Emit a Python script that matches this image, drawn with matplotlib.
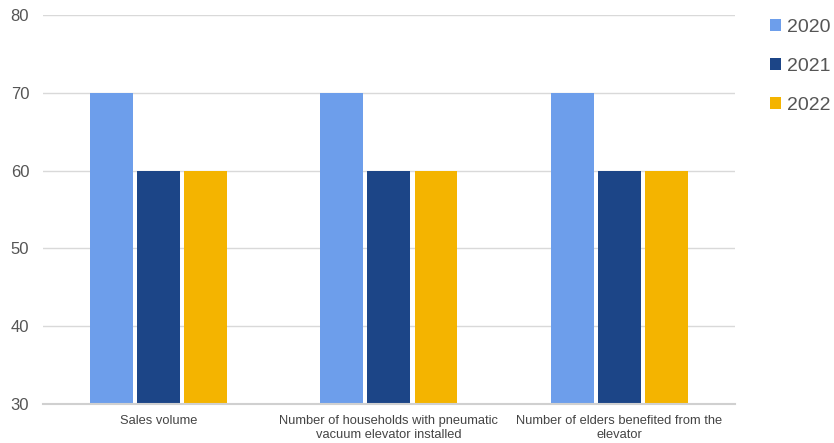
import matplotlib.pyplot as plt
import numpy as np

plt.rcParams['font.family'] = ['Liberation Sans', 'DejaVu Sans']

categories = [
    "Sales volume",
    "Number of households with pneumatic\nvacuum elevator installed",
    "Number of elders benefited from the\nelevator",
]
years = ["2020", "2021", "2022"]
values = {
    "2020": [70, 70, 70],
    "2021": [60, 60, 60],
    "2022": [60, 60, 60],
}
colors = {"2020": "#6d9eeb", "2021": "#1c4587", "2022": "#f4b400"}

fig = plt.figure(figsize=(8.34, 4.43), dpi=100)
ax = fig.add_axes([0.0516, 0.088, 0.8295, 0.878])

x = np.arange(len(categories))
width = 0.186
step = 0.204
for i, year in enumerate(years):
    ax.bar(x + (i - 1) * step, values[year], width, bottom=0,
           color=colors[year], label=year, zorder=3)

ax.set_ylim(30, 80)
ax.set_xlim(-0.5, 2.5)
ax.set_yticks(range(30, 81, 10))
ax.set_xticks(x)
ax.set_xticklabels(categories, fontsize=9.3, color="#444444", linespacing=1.2)
ax.tick_params(axis="y", labelsize=12, labelcolor="#555555", length=0, pad=10)
ax.tick_params(axis="x", length=0, pad=8)
ax.grid(axis="y", color="#d9d9d9", linewidth=1, zorder=0)
for side in ["top", "right", "left"]:
    ax.spines[side].set_visible(False)
ax.spines["bottom"].set_color("#d0d0d0")
ax.spines["bottom"].set_linewidth(1.5)
ax.spines["bottom"].set_zorder(4)

ax.legend(loc="upper left", bbox_to_anchor=(1.026, 1.035), frameon=False,
          fontsize=14, labelcolor="#555555", handlelength=0.57, handleheight=0.57,
          handletextpad=0.3, labelspacing=1.12)

fig.savefig("out.png", dpi=100)
